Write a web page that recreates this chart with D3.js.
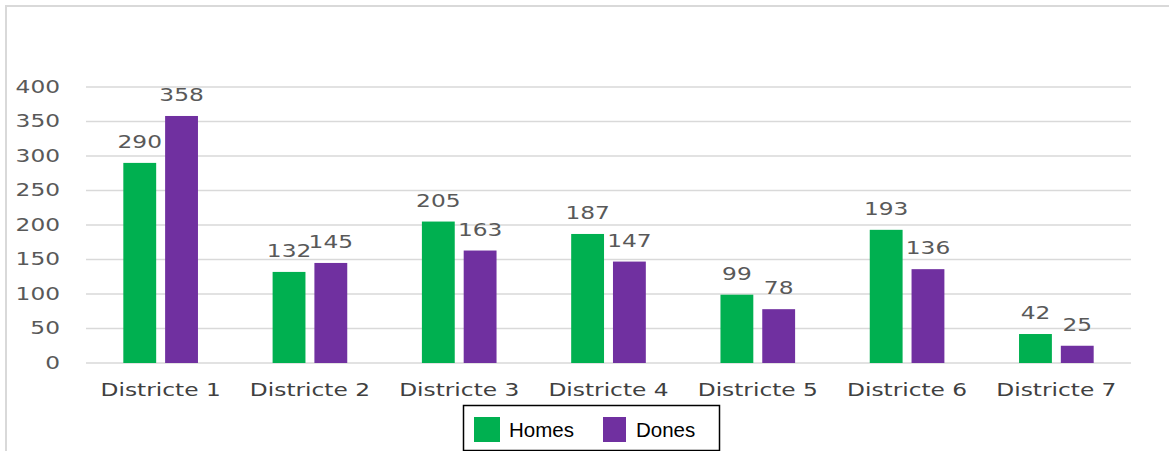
<!DOCTYPE html>
<html><head><meta charset="utf-8">
<script src="https://cdn.jsdelivr.net/npm/d3@7"></script>
<style>body{margin:0;background:#fff;}svg{display:block;}</style>
</head><body>
<script>
const categories = ["Districte 1","Districte 2","Districte 3","Districte 4","Districte 5","Districte 6","Districte 7"];
const seriesNames = ["Homes","Dones"];
const homes = [290,132,205,187,99,193,42];
const dones = [358,145,163,147,78,136,25];
const yTicks = [0,50,100,150,200,250,300,350,400];
const colors = ["#00b050","#7030a0"];

const W = 1169, H = 451;
const svg = d3.select("body").append("svg").attr("width", W).attr("height", H);

// outer frame
svg.append("path").attr("d", `M6,451 L6,6 L1169,6`).attr("fill","none").attr("stroke","#d9d9d9").attr("stroke-width",2);

const x0 = d3.scaleBand().domain(categories).range([86,1131]).padding(0);
const x1 = d3.scaleBand().domain(seriesNames).range([x0.bandwidth()*0.25, x0.bandwidth()*0.75]).paddingInner(0.214).paddingOuter(0);
const y = d3.scaleLinear().domain([0,400]).range([363,87]);

const SX = 1.37;
const txtFont = "DejaVu Sans, Verdana, sans-serif";

// gridlines
svg.append("g").selectAll("line").data(yTicks).join("line")
  .attr("x1",86).attr("x2",1131)
  .attr("y1",d=>y(d)).attr("y2",d=>y(d))
  .attr("stroke","#d9d9d9").attr("stroke-width",1.5);

// y tick labels
svg.append("g").selectAll("text").data(yTicks).join("text")
  .attr("transform",d=>`translate(60,${y(d)}) scale(${SX},1)`)
  .attr("text-anchor","end").attr("dominant-baseline","central")
  .attr("font-family",txtFont).attr("font-size",17).attr("fill","#595959")
  .text(d=>d);

const data = categories.map((c,i)=>({cat:c, vals:[{s:"Homes",v:homes[i]},{s:"Dones",v:dones[i]}]}));

const groups = svg.append("g").selectAll("g").data(data).join("g")
  .attr("transform",d=>`translate(${x0(d.cat)},0)`);

groups.selectAll("rect").data(d=>d.vals).join("rect")
  .attr("x",d=>x1(d.s)).attr("width",x1.bandwidth())
  .attr("y",d=>y(d.v)).attr("height",d=>y(0)-y(d.v))
  .attr("fill",(d,i)=>colors[i]);

groups.selectAll("text").data(d=>d.vals).join("text")
  .attr("transform",d=>`translate(${x1(d.s)+x1.bandwidth()/2},${y(d.v)-15}) scale(${SX},1)`)
  .attr("text-anchor","middle")
  .attr("font-family",txtFont).attr("font-size",17).attr("fill","#595959")
  .text(d=>d.v);

// category labels
svg.append("g").selectAll("text").data(categories).join("text")
  .attr("transform",d=>`translate(${x0(d)+x0.bandwidth()/2},396) scale(${SX},1)`)
  .attr("text-anchor","middle")
  .attr("font-family",txtFont).attr("font-size",17).attr("fill","#404040")
  .text(d=>d);

// legend
const lg = svg.append("g");
lg.append("rect").attr("x",463.5).attr("y",405.5).attr("width",256).attr("height",45)
  .attr("fill","#fff").attr("stroke","#000").attr("stroke-width",1.5);
const legItems = [{s:"Homes",x:474,w:26,tx:509},{s:"Dones",x:603,w:23,tx:636}];
legItems.forEach((it,i)=>{
  lg.append("rect").attr("x",it.x).attr("y",417).attr("width",it.w).attr("height",25).attr("fill",colors[i]);
  lg.append("text").attr("x",it.tx).attr("y",437).attr("font-family","Liberation Sans, Arial, sans-serif")
    .attr("font-size",20.5).attr("fill","#000").text(seriesNames[i]);
});
</script>
</body></html>
